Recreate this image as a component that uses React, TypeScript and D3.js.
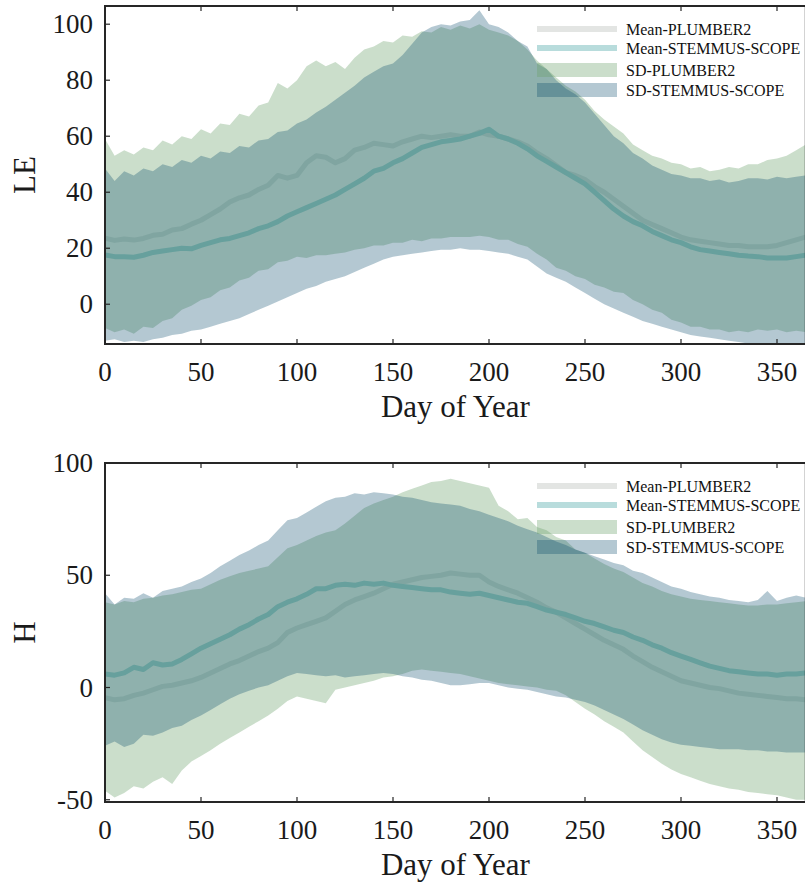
import React from 'react';
import * as d3 from 'd3';

const DAYS = [0,5,10,15,20,25,30,35,40,45,50,55,60,65,70,75,80,85,90,95,100,105,110,115,120,125,130,135,140,145,150,155,160,165,170,175,180,185,190,195,200,205,210,215,220,225,230,235,240,245,250,255,260,265,270,275,280,285,290,295,300,305,310,315,320,325,330,335,340,345,350,355,360,365];

// ---------- LE panel ----------
const LE_PLUMBER_MEAN = [23.6,22.8,23.3,22.9,23.5,24.6,25,26.5,27,28.6, 30,32,34,36.5,38,39,41,42.5,46,45, 46,50.5,53,52.5,50.5,52,55,56,57.5,57, 56.5,58,59,60,59.5,60,60.5,60,60,61.5, 60.5,60,59,58,56.5,54,52,49.5,47,46, 44.5,42,40,37.5,35,32.5,30,28.5,27,25.5, 24,23,22.5,22,21.5,21,21,20.5,20.5,20.5, 21,22,23,24];
const LE_PLUMBER_HI = [59,53,55,53.5,56,55,58.5,57,60,59, 62.5,61,64.5,64,68,67,71,72,79,77, 80,85,87,85,86.5,84,88,91,92,94, 93.5,96,95.5,97.5,97,99,98,99.5,98.5,100, 98,97,96,94,91,87,84,81,78,76, 73,69,66,63.5,61,57,55,53,52,50.5, 50,48.5,49,47.5,48,49,48.5,50,50,51.5, 52,53,55,57];
const LE_PLUMBER_LO = [-8.5,-10,-9,-10.5,-8,-8.5,-6,-5,-2,-0.5, 1.5,2.5,5,6,8.5,9.5,12,12.5,15,15.5, 17,16.5,17.5,17.5,18,18.5,19.5,20,21,21, 22,22,23,22.5,23.5,23.5,24,24,24,24.5, 24,23,23,21.5,20.5,18,16,13,12,10, 9,7,6,4.5,4,1.5,0,-2,-3,-5.5, -6.5,-8,-8,-9,-9,-10,-9.5,-10,-9,-9.5, -9,-10,-9.5,-10];
const LE_STEMMUS_MEAN = [17.6,17,17,16.8,17.5,18.5,19,19.5,20,19.8, 21,22,23,23.5,24.5,25.5,27,28,29.5,31.5, 33,34.5,36,37.5,39,41,43,45,47.5,48.5, 50.5,52,54,56,57,58,58.5,59,60,61, 62.5,60,59,57.5,55.5,53,51,49,47,45, 43,40,37,34,31.5,29.5,28,26,24.5,23, 22,20.5,19.5,19,18.5,18,17.5,17.2,17,16.5, 16.5,16.5,17,17.5];
const LE_STEMMUS_HI = [48.5,44,47.5,46,48.5,47.5,50,49,51.5,50.5, 53,52,54.5,54,56.5,56,58.5,59,61.5,62, 64.5,66,68.5,70.5,73,75.5,78,81,83,85, 86,89,93,97,99,100,99.5,101,101.5,105, 100,99,97,94,92,86,84,80,77,75, 72,68,64,60,57.5,54,52,49.5,48,46.5, 46,45,45,44,44.5,43.5,44,45,45,44.5, 45.5,45,45.5,46];
const LE_STEMMUS_LO = [-13,-12.5,-13.5,-13,-13.5,-12.5,-12,-11,-10.5,-9.5, -9,-8,-7,-6,-5,-3.5,-2,-0.5,1,2.5, 4,5.5,6.5,8,9,10,11.5,13,14.5,16, 17,17.5,18,18.5,19,19.5,19.5,20,19.5,19.5, 19,18.5,18,17,16,13.5,11,9.5,8,6, 4,2,0,-1.5,-3,-4.5,-6,-7,-8,-9, -10,-11,-11.5,-12,-12.5,-13,-13.5,-14,-14.5,-15, -15,-15,-15,-15];

// ---------- H panel ----------
const H_PLUMBER_MEAN = [-4.5,-5.5,-5,-3.5,-2.5,-1,0.5,1,2,3, 4.5,6.5,8.5,10.5,12,14,16,17.5,20,24.5, 26.5,28,29.5,31,34,37,39,40.5,42,44, 46,47,48,49,49.5,50,51,50.5,50,50, 47,45,43.5,42,40,38,35.5,33.5,31,28.5, 26,23.5,21,19,17,14,11.5,9,7,5, 3,2,1,0,-0.5,-1.5,-2.5,-3,-3.5,-4, -4.5,-5,-5,-5.5];
const H_PLUMBER_HI = [38,37,38.5,38,39.5,40,41,41.5,42.5,43.5, 44,46,48,49.5,51,52,53,54,58,62, 63.5,65.5,67.5,69,70,73,76.5,80,82,83.5, 85,87,88.5,90,91.5,92,93,92,91,90, 89,81,78.5,75,75.5,71.5,70,67,65.5,61.5, 60,57.5,55,53,51.5,49,46.5,45,43,41.5, 40.5,39.5,39,38.5,38,37.5,37,36.5,36.5,37, 37,37.5,38,38.5];
const H_PLUMBER_LO = [-46,-49,-47,-44,-45,-42,-40,-43,-37,-33, -30.5,-28,-25,-22.5,-20,-17.5,-15,-12.5,-9.5,-6, -4,-5,-6,-7,-1,0,1,2,3,4.5, 5,6,7.5,8,7.5,7,6.5,6,5,4, 3,2,1.5,1,0.5,0,-1,-1.5,-3.5,-6.5, -9.5,-12,-15,-17.5,-20,-24,-28,-31,-34,-36.5, -38.5,-40,-41.5,-43,-44,-45,-45.5,-46.5,-47,-47.5, -48,-49,-50,-50];
const H_STEMMUS_MEAN = [6,5.5,6.5,9,8,11,10,10.5,12.5,15, 17.5,19.5,21.5,23.5,26,28,30.5,32.5,36,38, 39.5,41.5,44,44,45.5,46,45.5,46.5,46,46.5, 45.5,45,44.5,44,43.5,43.5,42.5,42,41.5,42, 41,40,39,38,37.5,36,34.5,33.5,32.5,31, 29.5,28.5,27,25.5,24.5,22.5,21,19,17.5,15.5, 14,12.5,11,9.5,8.5,7.5,7,6.5,6,6, 5.5,6,6,6.5];
const H_STEMMUS_HI = [42,37,40,39.5,42,40,43,44,45,47, 48.5,51,54,56.5,59,61,63.5,65.5,70,74.5, 75.5,78,80.5,83,84.5,85,86.5,86,87,86.5, 86,85,84.5,83.5,82.5,82,81.5,81,79.5,78.5, 77,75.5,74,72,70.5,69,67,65,63.5,61.5, 60,58.5,57,55.5,54.5,52,51,49,47,45, 44,42.5,41.5,40.5,40,39,38.5,38,39,43, 38.5,40,41,40];
const H_STEMMUS_LO = [-26,-24,-26.5,-25,-21,-21.5,-20,-18,-17,-14.5, -12.5,-10,-7.5,-5,-3,-1.5,0,1,3,5, 6.5,6,5.5,5,5.5,4.5,5,5.5,6,6.5, 6,5,4.5,3.5,3,2,1,1,1.5,2, 2,1,0,-0.5,-1,-2,-3,-4,-4.5,-5.5, -6.5,-8,-10,-12,-14,-16.5,-19,-21,-23,-24.5, -25.5,-26,-26.5,-27,-27.5,-27.5,-27.5,-28,-28,-28.5, -28.5,-29,-29,-29];

const X_TICKS = [0, 50, 100, 150, 200, 250, 300, 350];
const LE_TICKS = [0, 20, 40, 60, 80, 100];
const H_TICKS = [-50, 0, 50, 100];
const LEGEND_LABELS = ['Mean-PLUMBER2', 'Mean-STEMMUS-SCOPE', 'SD-PLUMBER2', 'SD-STEMMUS-SCOPE'];
const X_LABEL = 'Day of Year';

const FONT = '"Liberation Serif","Times New Roman",Times,serif';
const AXIS_COLOR = '#262626';
const GREEN = 'rgb(106,161,106)';
const GREEN_OP = 0.35;
const BLUE = 'rgb(5,72,105)';
const BLUE_OP = 0.3;
const PL_LINE = '#80a5a1';
const SS_LINE = '#67a09d';
const PL_LEG = '#e3e5e3';
const SS_LEG = '#b8dcdc';

type PanelProps = {
  id: string;
  top: number;
  bottom: number;
  yDomain: [number, number];
  yTicks: number[];
  yLabel: string;
  pm: number[]; phi: number[]; plo: number[];
  sm: number[]; shi: number[]; slo: number[];
};

function Panel(p: PanelProps) {
  const left = 105;
  const right = 805.8;
  const x = d3.scaleLinear().domain([0, 365]).range([left, right]);
  const y = d3.scaleLinear().domain(p.yDomain).range([p.bottom, p.top]);
  const idx = DAYS.map((_, i) => i);
  const band = (lo: number[], hi: number[]) =>
    d3.area<number>().x(i => x(DAYS[i])).y0(i => y(lo[i])).y1(i => y(hi[i]))(idx) || '';
  const line = (m: number[]) =>
    d3.line<number>().x(i => x(DAYS[i])).y(i => y(m[i]))(idx) || '';
  const clip = `clip-${p.id}`;
  const tickLen = 5;
  const lx0 = 537, lx1 = 617, ltx = 626;
  const rows = [23, 42, 64, 84].map(r => p.top + r);
  return (
    <g>
      <defs>
        <clipPath id={clip}>
          <rect x={left} y={p.top} width={right - left} height={p.bottom - p.top} />
        </clipPath>
      </defs>
      <g clipPath={`url(#${clip})`}>
        <path d={band(p.plo, p.phi)} fill={GREEN} fillOpacity={GREEN_OP} />
        <path d={band(p.slo, p.shi)} fill={BLUE} fillOpacity={BLUE_OP} />
        <path d={line(p.pm)} fill="none" stroke={PL_LINE} strokeWidth={5} strokeLinejoin="round" />
        <path d={line(p.sm)} fill="none" stroke={SS_LINE} strokeWidth={5} strokeLinejoin="round" />
      </g>
      {/* frame */}
      <rect x={left} y={p.top} width={right - left} height={p.bottom - p.top} fill="none" stroke={AXIS_COLOR} strokeWidth={2} />
      {/* x ticks */}
      {X_TICKS.map(t => (
        <g key={'x' + t}>
          <line x1={x(t)} x2={x(t)} y1={p.bottom} y2={p.bottom - tickLen} stroke={AXIS_COLOR} strokeWidth={1.2} />
          <line x1={x(t)} x2={x(t)} y1={p.top} y2={p.top + tickLen} stroke={AXIS_COLOR} strokeWidth={1.2} />
          <text x={x(t)} y={p.bottom + 37} textAnchor="middle" fontFamily={FONT} fontSize={27} fill="#1a1a1a">{t}</text>
        </g>
      ))}
      {/* y ticks */}
      {p.yTicks.map(t => (
        <g key={'y' + t}>
          <line x1={left} x2={left + tickLen} y1={y(t)} y2={y(t)} stroke={AXIS_COLOR} strokeWidth={1.2} />
          <text x={93} y={y(t)} dy="0.34em" textAnchor="end" fontFamily={FONT} fontSize={27} fill="#1a1a1a">{t}</text>
        </g>
      ))}
      <text x={(left + right) / 2} y={p.bottom + 73} textAnchor="middle" fontFamily={FONT} fontSize={31} fill="#1a1a1a">{X_LABEL}</text>
      <text transform={`translate(35,${(p.top + p.bottom) / 2}) rotate(-90)`} textAnchor="middle" fontFamily={FONT} fontSize={31} fill="#1a1a1a">{p.yLabel}</text>
      {/* legend */}
      <line x1={lx0} x2={lx1} y1={rows[0]} y2={rows[0]} stroke={PL_LEG} strokeWidth={6} />
      <line x1={lx0} x2={lx1} y1={rows[1]} y2={rows[1]} stroke={SS_LEG} strokeWidth={6} />
      <rect x={lx0} y={rows[2] - 7} width={lx1 - lx0} height={14} fill={GREEN} fillOpacity={GREEN_OP} />
      <rect x={lx0} y={rows[3] - 7} width={lx1 - lx0} height={14} fill={BLUE} fillOpacity={BLUE_OP} />
      {LEGEND_LABELS.map((lab, i) => (
        <text key={lab} x={ltx} y={rows[i]} dy="0.35em" fontFamily={FONT} fontSize={16} fill="#111">{lab}</text>
      ))}
    </g>
  );
}

export default function App() {
  return (
    <svg width={805} height={884} style={{ position: 'absolute', left: 0, top: 0, background: '#fff' }}>
      <rect x={0} y={0} width={805} height={884} fill="#fff" />
      <Panel id="le" top={6} bottom={344} yDomain={[-14.2, 106.5]} yTicks={LE_TICKS} yLabel="LE"
        pm={LE_PLUMBER_MEAN} phi={LE_PLUMBER_HI} plo={LE_PLUMBER_LO}
        sm={LE_STEMMUS_MEAN} shi={LE_STEMMUS_HI} slo={LE_STEMMUS_LO} />
      <Panel id="h" top={463} bottom={802} yDomain={[-51, 100]} yTicks={H_TICKS} yLabel="H"
        pm={H_PLUMBER_MEAN} phi={H_PLUMBER_HI} plo={H_PLUMBER_LO}
        sm={H_STEMMUS_MEAN} shi={H_STEMMUS_HI} slo={H_STEMMUS_LO} />
    </svg>
  );
}
